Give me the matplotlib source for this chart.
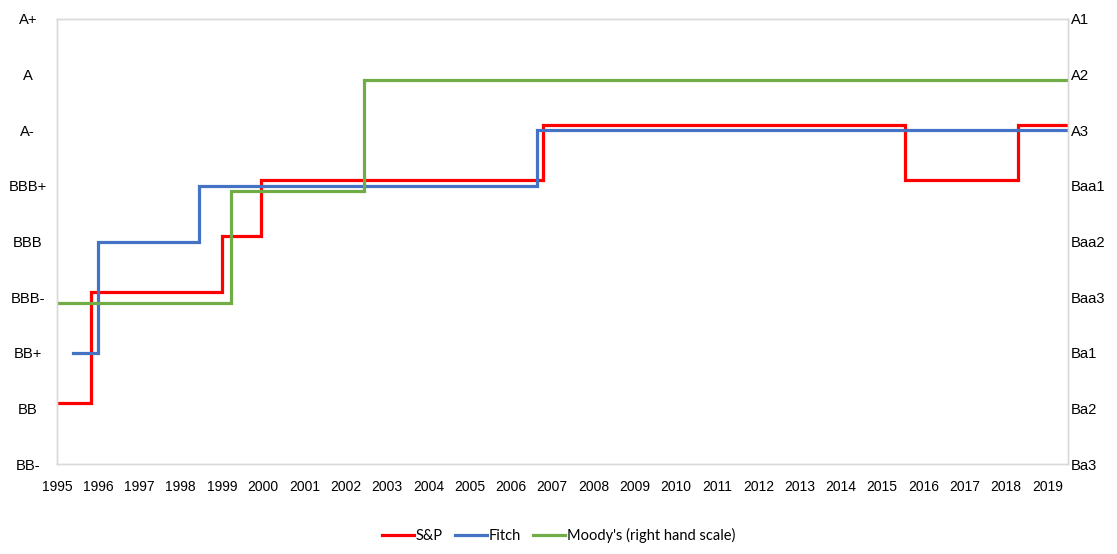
import numpy as np
import matplotlib
matplotlib.use('Agg')
import matplotlib.pyplot as plt
from matplotlib.lines import Line2D

plt.rcParams['font.family'] = ['Liberation Sans', 'DejaVu Sans']

# ── Rating scales ─────────────────────────────────────────────────────────────
SP_SCALE = ['BB-', 'BB', 'BB+', 'BBB-', 'BBB', 'BBB+', 'A-', 'A', 'A+']
MOODY_SCALE = ['Ba3', 'Ba2', 'Ba1', 'Baa3', 'Baa2', 'Baa1', 'A3', 'A2', 'A1']
YEARS = list(range(1995, 2020))

# ── Rating histories (time of change, rating from then on) ───────────────────
sp_t = [1995.0, 1995.83, 1999.0, 1999.94, 2006.78, 2015.56, 2018.3, 2019.5]
sp_r = ['BB', 'BBB-', 'BBB', 'BBB+', 'A-', 'BBB+', 'A-', 'A-']

fitch_t = [1995.38, 1996.0, 1998.45, 2006.63, 2019.5]
fitch_r = ['BB+', 'BBB', 'BBB+', 'A-', 'A-']

moody_t = [1995.0, 1999.23, 2002.43, 2019.5]
moody_r = ['Baa3', 'Baa1', 'A2', 'A2']

# small vertical nudge so overlapping lines stay visible
NUDGE = dict(sp=0.1, fitch=0.0, moody=-0.1)

COL = dict(sp='#FF0000', fitch='#4472C4', moody='#70AD47')
LW = 2.3
FS = 10
FSY = 10.6
GRID = '#D9D9D9'

fig = plt.figure(figsize=(11.17, 5.54), dpi=100)
ax = fig.add_axes([0.051, 0.162, 0.905, 0.804])

sp_y = [SP_SCALE.index(r) + NUDGE['sp'] for r in sp_r]
fi_y = [SP_SCALE.index(r) + NUDGE['fitch'] for r in fitch_r]
mo_y = [MOODY_SCALE.index(r) + NUDGE['moody'] for r in moody_r]

ax.step(sp_t, sp_y, where='post', color=COL['sp'], lw=LW, solid_joinstyle='miter')
ax.step(fitch_t, fi_y, where='post', color=COL['fitch'], lw=LW, solid_joinstyle='miter')

ax2 = ax.twinx()
ax2.step(moody_t, mo_y, where='post', color=COL['moody'], lw=LW, solid_joinstyle='miter')

for a in (ax, ax2):
    a.set_ylim(0, 8)
    a.set_xlim(1995, 2019.5)
    for sp in a.spines.values():
        sp.set_color(GRID)
        sp.set_linewidth(1.0)
    a.tick_params(length=0, labelsize=FS, colors='#000000')

ax.set_yticks(range(9))
ax.set_yticklabels(SP_SCALE)
ax.tick_params(axis='y', pad=21, labelsize=FSY)
for lbl in ax.get_yticklabels():
    lbl.set_horizontalalignment('center')

ax2.set_yticks(range(9))
ax2.set_yticklabels(MOODY_SCALE)
ax2.tick_params(axis='y', pad=2, labelsize=FSY)

ax.set_xticks(YEARS)
ax.set_xticklabels([str(y) for y in YEARS])
ax.tick_params(axis='x', pad=11)

handles = [Line2D([], [], color=COL['sp'], lw=LW),
           Line2D([], [], color=COL['fitch'], lw=LW),
           Line2D([], [], color=COL['moody'], lw=LW)]
fig.legend(handles, ['S&P', 'Fitch', "Moody's (right hand scale)"],
           loc='center', bbox_to_anchor=(0.5, 0.034), ncol=3, frameon=False,
           prop=dict(family=['Lato', 'DejaVu Sans'], size=10.5),
           handlelength=2.2, handletextpad=0.15, columnspacing=0.8)

fig.savefig('out.png', dpi=100)
